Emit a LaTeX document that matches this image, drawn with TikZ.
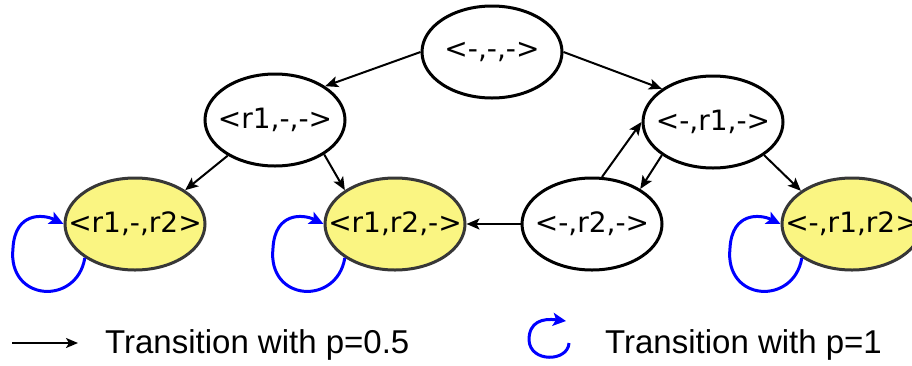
\documentclass[tikz,border=0pt]{standalone}
\usepackage{fontspec}
\setmainfont{DejaVu Sans}
\newfontfamily\legendfont{Liberation Sans}
\usetikzlibrary{shapes.geometric,arrows.meta}
\definecolor{stateyellow}{RGB}{250,245,130}
\definecolor{stateedge}{RGB}{55,55,55}
\definecolor{loopblue}{RGB}{0,0,255}
\tikzset{
  state/.style={ellipse,draw=black,line width=3pt,minimum width=140pt,minimum height=92pt,
    inner sep=0pt,label={[inner sep=0pt,font=\fontsize{28}{30}\selectfont]center:#1}},
  absorb/.style={state={#1},fill=stateyellow,draw=stateedge},
  trans/.style={line width=2pt,-{Stealth[length=13pt,width=11pt,inset=3pt]}},
  selfloop/.style={line width=3pt,draw=loopblue,-{Stealth[length=14pt,width=13pt,inset=3pt]}},
  legendtext/.style={anchor=west,inner sep=0pt,font=\legendfont\fontsize{33}{36}\selectfont}
}
\begin{document}
\begin{tikzpicture}[x=1pt,y=-1pt]
\useasboundingbox (0,0) rectangle (912,365);
\clip (0,0) rectangle (912,365);

% states
\node[state={<-,-,->}]   (s0) at (492,52)  {};
\node[state={<r1,-,->}]  (sa) at (275,120) {};
\node[state={<-,r1,->}]  (sb) at (713,122) {};
\node[state={<-,r2,->}]  (sc) at (592,224) {};
\node[absorb={<r1,-,r2>}] (t1) at (135,224) {};
\node[absorb={<r1,r2,->}] (t2) at (395,224) {};
\node[absorb={<-,r1,r2>}] (t3) at (852,224) {};

% transitions with p=0.5
\draw[trans] (s0.west) -- (sa.34);
\draw[trans] (s0.east) -- (sb.147);
\draw[trans] (sa.217) -- (t1.34);
\draw[trans] (sa.-35) -- (t2.146);
\draw[trans] (sb.213) -- (sc.36);
\draw[trans] (sc.78) -- (sb.west);
\draw[trans] (sc.west) -- (t2.east);
\draw[trans] (sb.-33) -- (t3.147);

% self loops with p=1
\foreach \n in {t1,t2,t3}{
  \draw[selfloop] (\n.214)
    .. controls ([shift={(-58,82)}]\n.center) and ([shift={(-128,78)}]\n.center)
    .. ([shift={(-122,24)}]\n.center)
    .. controls ([shift={(-120,-12)}]\n.center) and ([shift={(-92,-10)}]\n.center)
    .. (\n.west);
}

% legend
\coordinate (la) at (12,343);
\coordinate (lb) at (78,343);
\draw[line width=2pt,-{Stealth[length=12pt,width=10pt,inset=3pt]}] (la) -- (lb);
\node[legendtext] (l1) at (105,345) {Transition with p=0.5};

\coordinate (lc) at (569,343);
\coordinate (lm) at (529,340);
\coordinate (ld) at (566,321);
\draw[selfloop,-{Stealth[length=13pt,width=13pt,inset=3pt]}] (lc)
  .. controls (568,362) and (530,363) .. (lm)
  .. controls (529,322) and (542,318) .. (ld);
\node[legendtext] (l2) at (605,345) {Transition with p=1};
\end{tikzpicture}
\end{document}
